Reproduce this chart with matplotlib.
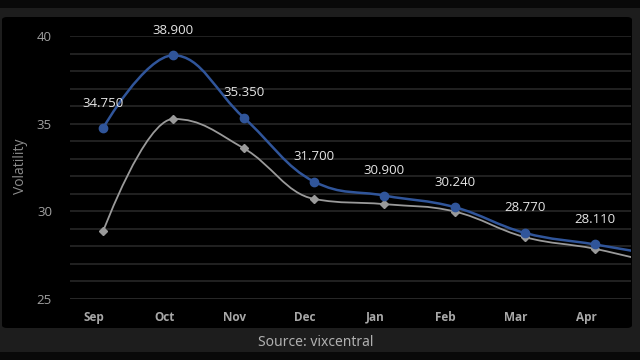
import matplotlib
matplotlib.use("Agg")
import matplotlib.pyplot as plt
import matplotlib.transforms as mtransforms
from matplotlib.path import Path
from matplotlib.patches import PathPatch, Rectangle, FancyBboxPatch

months = ["Sep", "Oct", "Nov", "Dec", "Jan", "Feb", "Mar", "Apr", "May"]
current = [34.75, 38.90, 35.35, 31.70, 30.90, 30.24, 28.77, 28.11, 27.42]
previous = [28.85, 35.27, 33.60, 30.71, 30.41, 29.99, 28.53, 27.86, 26.89]
labelled = 8  # number of points with data labels
yticks = [25, 30, 35, 40]

BLUE = "#30559a"
GRAY = "#9a9a9a"


def spline_path(xs, ys, smoothing=1.5):
    n = len(xs)
    denom = smoothing + 1
    lc = [(xs[i], ys[i]) for i in range(n)]
    rc = [(xs[i], ys[i]) for i in range(n)]
    for i in range(1, n - 1):
        px, py = xs[i], ys[i]
        lx, ly = xs[i - 1], ys[i - 1]
        nx, ny = xs[i + 1], ys[i + 1]
        lcx = (smoothing * px + lx) / denom
        lcy = (smoothing * py + ly) / denom
        rcx = (smoothing * px + nx) / denom
        rcy = (smoothing * py + ny) / denom
        corr = 0
        if rcx != lcx:
            corr = ((rcy - lcy) * (rcx - px)) / (rcx - lcx) + py - rcy
        lcy += corr
        rcy += corr
        if lcy > ly and lcy > py:
            lcy = max(ly, py); rcy = 2 * py - lcy
        elif lcy < ly and lcy < py:
            lcy = min(ly, py); rcy = 2 * py - lcy
        if rcy > ny and rcy > py:
            rcy = max(ny, py); lcy = 2 * py - rcy
        elif rcy < ny and rcy < py:
            rcy = min(ny, py); lcy = 2 * py - rcy
        lc[i] = (lcx, lcy)
        rc[i] = (rcx, rcy)
    verts = [(xs[0], ys[0])]
    codes = [Path.MOVETO]
    for i in range(1, n):
        verts += [rc[i - 1], lc[i], (xs[i], ys[i])]
        codes += [Path.CURVE4] * 3
    return Path(verts, codes)


fig = plt.figure(figsize=(6.4, 3.6), dpi=100)
fig.patch.set_facecolor("#1d1d1d")
W, H = 640.0, 360.0

# top and bottom black strips
fig.add_artist(Rectangle((0, 1 - 8 / H), 1, 8 / H, transform=fig.transFigure,
                         facecolor="#090909", edgecolor="none", zorder=0))
fig.add_artist(Rectangle((0, 0), 1, 8 / H, transform=fig.transFigure,
                         facecolor="#090909", edgecolor="none", zorder=0))
# chart panel
fig.add_artist(FancyBboxPatch((2 / W, 1 - 328 / H), 630 / W, 311 / H,
                              boxstyle="round,pad=0,rounding_size=0.008",
                              transform=fig.transFigure, facecolor="#000000",
                              edgecolor="none", zorder=0))

ax = fig.add_axes([70 / W, 1 - 299 / H, 561 / W, 263 / H])
ax.set_facecolor("none")
ax.set_zorder(1)

xs = list(range(len(months)))
ax.set_xlim(-0.47, 7.51)
ax.set_ylim(25, 40)

# grid lines every unit
for v in range(25, 41):
    ax.axhline(v, color="#333333" if v == 25 else "#2a2a2a", lw=1.1, zorder=1)

for vals, color, lw, marker, ms in [
    (previous, GRAY, 1.3, "D", 3.6),
    (current, BLUE, 1.8, "o", 6.0),
]:
    p = spline_path(xs, vals)
    ax.add_patch(PathPatch(p, facecolor="none", edgecolor=color, lw=lw, zorder=3))
    ax.plot(xs, vals, linestyle="none", marker=marker, ms=ms, color=color,
            markeredgecolor=color, zorder=4)

for i in range(labelled):
    ax.annotate(f"{current[i]:.3f}", (xs[i], current[i]), xytext=(0, 18),
                textcoords="offset points", ha="center", va="center",
                color="#e6e6e6", fontsize=9.5, family="Open Sans", zorder=5)

for s in ax.spines.values():
    s.set_visible(False)

ax.set_yticks(yticks)
ax.set_yticklabels([str(t) for t in yticks], color="#a0a0a0", fontsize=9.5,
                   family="Open Sans")
ax.set_xticks(xs[:labelled])
ax.set_xticklabels(months[:labelled], color="#a8a8a8", fontsize=8.5,
                   fontweight="bold", family="Open Sans")
ax.tick_params(axis="both", length=0)
ax.tick_params(axis="y", pad=13)
ax.tick_params(axis="x", pad=15.5)
offset = mtransforms.ScaledTranslation(-9 / 100, 0, fig.dpi_scale_trans)
for lab in ax.get_xticklabels():
    lab.set_transform(lab.get_transform() + offset)
    lab.set_verticalalignment("baseline")

fig.text(20 / W, 1 - 166 / H, "Volatility", rotation=90, ha="center",
         va="center", color="#8c8c8c", fontsize=10, family="Open Sans")
fig.text(316 / W, 1 - 342 / H, "Source: vixcentral", ha="center", va="center",
         color="#b0b0b0", fontsize=10, family="Noto Sans")

fig.savefig("out.png", dpi=100, facecolor=fig.get_facecolor())
